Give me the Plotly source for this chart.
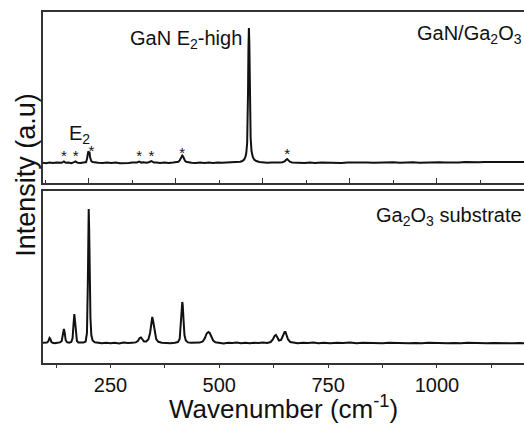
import plotly.graph_objects as go

# ---- Data (intensity in arbitrary units) ----
wn_top = [95, 102, 110, 118, 126, 133, 138, 141, 143, 145, 148, 154, 160, 165, 168, 170, 172, 175, 181, 187,
          192, 194, 196, 197, 198, 199, 200, 202, 203, 204, 206, 209, 214, 222, 232, 242, 252, 262, 272, 282,
          292, 300, 306, 311, 314, 316, 318, 321, 326, 332, 338, 341, 344, 347, 350, 356, 364, 374, 384, 394,
          401, 406, 409, 411, 413, 415, 417, 419, 421, 424, 429, 436, 446, 456, 466, 476, 486, 496, 506, 516,
          526, 534, 540, 548, 553, 557, 560, 562, 564, 565, 566, 567, 568, 569, 570, 571, 572, 574, 577, 580,
          585, 592, 600, 610, 620, 630, 638, 645, 650, 653, 656, 659, 662, 667, 674, 684, 696, 708, 720, 735,
          750, 765, 780, 795, 810, 825, 840, 855, 870, 885, 900, 915, 930, 945, 960, 975, 990, 1005, 1020, 1035,
          1050, 1065, 1080, 1095, 1110, 1125, 1140, 1155, 1170, 1185, 1200]
int_top = [20.2, 19.8, 20.4, 19.9, 20.5, 20.0, 20.3, 21.0, 21.6, 20.9, 20.2, 20.4, 19.9, 20.6, 21.2, 21.6, 20.8, 20.3, 20.1, 20.5,
           20.4, 21.0, 24.0, 29.0, 31.0, 31.5, 31.0, 30.5, 26.0, 23.0, 21.8, 21.0, 20.5, 20.2, 19.9, 20.4, 20.0, 20.5, 19.8, 20.3,
           20.1, 20.4, 20.2, 20.6, 21.2, 21.5, 21.0, 20.4, 20.7, 20.3, 20.8, 21.3, 22.0, 21.2, 20.6, 20.4, 20.1, 20.5, 19.9, 20.4,
           20.6, 21.2, 22.5, 24.5, 27.0, 27.5, 26.5, 24.0, 22.3, 21.2, 20.6, 20.3, 20.0, 20.5, 19.9, 20.4, 20.1, 20.6, 20.2, 20.5,
           20.3, 20.6, 20.9, 21.3, 22.0, 23.5, 26.0, 30.0, 40.0, 55.0, 90.0, 135.0, 155.0, 140.0, 100.0, 65.0, 45.0, 32.0, 26.0, 23.5,
           22.0, 21.0, 20.6, 20.3, 20.5, 20.1, 20.4, 20.8, 21.6, 23.0, 24.0, 22.6, 21.3, 20.6, 20.3, 20.5, 20.0, 20.4, 20.1, 20.6,
           20.2, 20.5, 19.9, 20.4, 20.6, 20.1, 20.5, 20.2, 20.6, 20.3, 20.7, 20.2, 20.5, 20.8, 20.3, 20.6, 20.4, 20.8, 20.5, 20.9,
           20.6, 20.9, 20.5, 20.8, 21.0, 20.7, 20.9, 21.1, 20.8, 21.0, 20.9]

wn_bot = [95, 100, 104, 107, 110, 112, 114, 117, 122, 128, 134, 138, 141, 143, 145, 147, 150, 155, 160, 163,
          165, 167, 169, 171, 173, 176, 182, 188, 193, 196, 198, 199, 200, 201, 202, 204, 206, 209, 214, 220,
          230, 240, 250, 260, 270, 280, 290, 300, 308, 313, 317, 320, 323, 327, 332, 337, 341, 344, 346, 348,
          351, 355, 360, 368, 378, 388, 398, 405, 409, 412, 414, 415, 416, 418, 420, 423, 428, 435, 445, 455,
          462, 467, 471, 475, 478, 482, 486, 491, 500, 510, 520, 530, 540, 550, 560, 570, 580, 590, 600, 610,
          618, 623, 627, 630, 633, 637, 642, 646, 650, 652, 655, 658, 663, 670, 680, 692, 704, 716, 728, 740,
          755, 770, 785, 800, 815, 830, 845, 860, 875, 890, 905, 920, 935, 950, 965, 980, 995, 1010, 1025, 1040,
          1055, 1070, 1085, 1100, 1115, 1130, 1145, 1160, 1175, 1190, 1200]
int_bot = [20.3, 20.0, 20.4, 21.5, 25.0, 24.0, 21.2, 20.3, 19.8, 20.2, 20.6, 22.0, 28.0, 34.0, 30.0, 23.0, 20.8, 20.2, 21.0, 25.0,
           38.0, 49.0, 40.0, 27.0, 22.0, 20.6, 20.2, 20.4, 21.5, 30.0, 80.0, 130.0, 154.0, 135.0, 90.0, 45.0, 28.0, 22.5, 20.8, 20.1,
           19.7, 20.3, 19.8, 20.2, 19.6, 20.4, 19.9, 20.3, 20.6, 22.0, 25.0, 25.5, 23.5, 21.5, 21.5, 23.5, 30.0, 42.0, 46.0, 42.0,
           32.0, 24.0, 21.2, 20.2, 20.0, 19.7, 20.3, 21.0, 24.0, 38.0, 55.0, 61.0, 58.0, 42.0, 28.0, 22.5, 20.6, 20.2, 20.0, 20.4,
           21.5, 25.0, 29.5, 31.0, 30.0, 26.0, 22.5, 20.8, 20.1, 19.6, 20.2, 19.9, 20.4, 19.7, 20.3, 19.8, 20.2, 19.9, 20.4, 20.0,
           21.0, 23.5, 27.0, 28.0, 26.0, 22.5, 23.0, 27.5, 31.0, 31.0, 28.0, 23.5, 21.0, 20.2, 19.7, 20.3, 19.9, 20.4, 19.8, 20.2,
           19.7, 20.3, 19.9, 20.4, 19.8, 20.2, 19.9, 20.3, 19.7, 20.2, 19.9, 20.3, 19.8, 20.1, 19.7, 20.2, 19.9, 20.3, 19.8, 20.1,
           19.7, 20.2, 19.9, 20.0, 19.7, 20.1, 19.8, 20.0, 19.7, 19.9, 19.8]

star_wn = [143, 170, 206, 316, 344, 415, 656]
star_int = [26, 26, 31, 26, 26, 29, 28]

bottom_ticks = [250, 500, 750, 1000]
x_range = [95, 1200]

LINE = "#111111"
AX = "#333333"
FONT = "Arial, Liberation Sans, sans-serif"

fig = go.Figure()
fig.add_trace(go.Scatter(x=wn_top, y=int_top, mode="lines", line=dict(color=LINE, width=2),
                         xaxis="x", yaxis="y", showlegend=False, hoverinfo="skip"))
fig.add_trace(go.Scatter(x=wn_bot, y=int_bot, mode="lines", line=dict(color=LINE, width=2),
                         xaxis="x2", yaxis="y2", showlegend=False, hoverinfo="skip"))
fig.add_trace(go.Scatter(x=star_wn, y=star_int, mode="text", text=["*"] * len(star_wn),
                         textfont=dict(size=15, color=LINE, family=FONT), textposition="middle center",
                         xaxis="x", yaxis="y", showlegend=False, hoverinfo="skip"))

fig.update_layout(
    width=524, height=427,
    margin=dict(l=43, r=0, t=12, b=64),
    paper_bgcolor="white", plot_bgcolor="white",
    font=dict(family=FONT, color="#111111"),
    xaxis=dict(domain=[0, 1], range=x_range, anchor="y",
               showline=True, linecolor=AX, linewidth=1.5, mirror=True,
               showgrid=False, zeroline=False, showticklabels=False,
               tick0=200, dtick=200, ticks="inside", ticklen=5, tickwidth=1.2, tickcolor=AX,
               minor=dict(tick0=100, dtick=200, ticks="inside", ticklen=3, tickwidth=1.2, tickcolor=AX)),
    yaxis=dict(domain=[0.5128, 1], range=[0, 171], anchor="x",
               showline=True, linecolor=AX, linewidth=1.5, mirror=False,
               showgrid=False, zeroline=False, showticklabels=False, ticks=""),
    xaxis2=dict(domain=[0, 1], range=x_range, anchor="y2",
                showline=True, linecolor=AX, linewidth=1.5, mirror=True,
                showgrid=False, zeroline=False,
                tickmode="array", tickvals=bottom_ticks, ticktext=[str(t) for t in bottom_ticks],
                ticks="outside", ticklen=3, tickwidth=1.2, tickcolor=AX,
                tickfont=dict(size=20, family=FONT, color="#111111"),
                minor=dict(tick0=125, dtick=250, ticks="outside", ticklen=3, tickwidth=1.2, tickcolor=AX)),
    yaxis2=dict(domain=[0, 0.49], range=[0, 172], anchor="x2",
                showline=True, linecolor=AX, linewidth=1.5, mirror=False,
                showgrid=False, zeroline=False, showticklabels=False, ticks=""),
    annotations=[
        dict(text="GaN E<sub>2</sub>-high", x=556, y=144, xref="x", yref="y",
             xanchor="right", yanchor="middle", showarrow=False, font=dict(size=20)),
        dict(text="GaN/Ga<sub>2</sub>O<sub>3</sub>", x=1.0, y=149, xref="paper", yref="y",
             xanchor="right", yanchor="middle", showarrow=False, font=dict(size=20)),
        dict(text="E<sub>2</sub>", x=178, y=49, xref="x", yref="y",
             xanchor="center", yanchor="middle", showarrow=False, font=dict(size=20)),
        dict(text="Ga<sub>2</sub>O<sub>3</sub> substrate", x=1.0, y=147, xref="paper", yref="y2",
             xanchor="right", yanchor="middle", showarrow=False, font=dict(size=20)),
        dict(text="Intensity (a.u)", x=-0.037, y=0.537, xref="paper", yref="paper",
             textangle=-90, xanchor="center", yanchor="middle", showarrow=False, font=dict(size=27)),
        dict(text="Wavenumber (cm<sup>-1</sup>)", x=0.499, y=-0.1795, xref="paper", yref="paper",
             xanchor="center", yanchor="bottom", showarrow=False, font=dict(size=26)),
    ],
)

fig.write_html("out.html", config={"displayModeBar": False},
               post_script="document.body.style.margin='0';document.body.style.overflow='hidden';")
